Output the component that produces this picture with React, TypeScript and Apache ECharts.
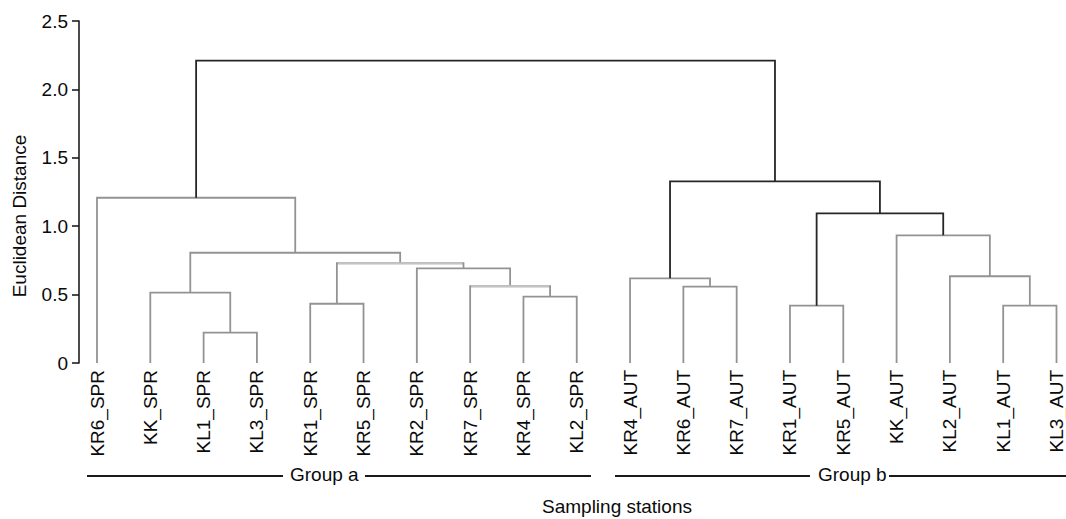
import React, { useEffect, useRef } from "react";
import * as echarts from "echarts";

// Leaves of the dendrogram, in display order
const leaves = [
  "KR6_SPR", "KK_SPR", "KL1_SPR", "KL3_SPR", "KR1_SPR", "KR5_SPR", "KR2_SPR", "KR7_SPR", "KR4_SPR", "KL2_SPR",
  "KR4_AUT", "KR6_AUT", "KR7_AUT", "KR1_AUT", "KR5_AUT", "KK_AUT", "KL2_AUT", "KL1_AUT", "KL3_AUT",
];

// Linkage: merge k creates cluster id (leaves.length + k)
const mergeLeft = [2, 13, 17, 4, 8, 1, 11, 7, 10, 16, 6, 22, 24, 15, 20, 0, 27, 34];
const mergeRight = [3, 14, 18, 5, 9, 19, 12, 23, 25, 21, 26, 29, 30, 28, 32, 31, 33, 35];
const mergeHeight = [0.222, 0.419, 0.419, 0.433, 0.485, 0.514, 0.558, 0.561, 0.619, 0.634, 0.692, 0.729, 0.806, 0.933, 1.094, 1.208, 1.328, 2.21];

const yTicks = [0, 0.5, 1.0, 1.5, 2.0, 2.5];

const groupNames = ["Group a", "Group b"];
const xAxisTitle = "Sampling stations";
const yAxisTitle = "Euclidean Distance";

// styling (not data)
const DARK_NODES = [33, 35, 36];
const LIGHT_HORIZONTAL = [26, 30];
const DARK = "#262626";
const GRAY = "#939393";
const LIGHT = "#c4c4c4";
const FONT = "'Liberation Sans', Arial, sans-serif";
const FS = 19;

function buildLinks() {
  const n = leaves.length;
  const xs: number[] = leaves.map((_, i) => i);
  const hs: number[] = leaves.map(() => 0);
  const data: any[] = [];
  const overlays: any[] = [];
  mergeLeft.forEach((l, k) => {
    const r = mergeRight[k];
    const h = mergeHeight[k];
    const id = n + k;
    xs[id] = (xs[l] + xs[r]) / 2;
    hs[id] = h;
    const color = DARK_NODES.includes(id) ? DARK : GRAY;
    data.push({
      coords: [
        [xs[l], hs[l]],
        [xs[l], h],
        [xs[r], h],
        [xs[r], hs[r]],
      ],
      lineStyle: { color },
    });
    if (LIGHT_HORIZONTAL.includes(id)) {
      overlays.push({
        coords: [
          [xs[l] + 0.02, h],
          [xs[r] - 0.02, h],
        ],
        lineStyle: { color: LIGHT },
      });
    }
  });
  return data.concat(overlays);
}

export default function App() {
  const ref = useRef<HTMLDivElement>(null);
  useEffect(() => {
    if (!ref.current) return;
    const chart = echarts.init(ref.current, undefined, { renderer: "svg" });
    const gridLeft = 97;
    const gridRight = 8;
    const lineY = 476;
    const groupLine = (x1: number, x2: number) => ({
      type: "line",
      shape: { x1, y1: lineY, x2, y2: lineY },
      style: { stroke: "#1a1a1a", lineWidth: 2 },
      silent: true,
    });
    chart.setOption({
      animation: false,
      backgroundColor: "#ffffff",
      textStyle: { fontFamily: FONT },
      grid: { left: gridLeft, right: gridRight, top: 21, bottom: 156, containLabel: false },
      xAxis: [
        { type: "value", min: 0, max: leaves.length - 1, show: false },
        {
          type: "category",
          data: leaves,
          boundaryGap: false,
          position: "bottom",
          axisLine: { show: false },
          axisTick: { show: false },
          splitLine: { show: false },
          axisLabel: {
            rotate: 90,
            interval: 0,
            margin: 7,
            fontSize: FS,
            color: "#0a0a0a",
            fontFamily: FONT,
          },
        },
      ],
      yAxis: {
        type: "value",
        min: yTicks[0],
        max: yTicks[yTicks.length - 1],
        interval: 0.5,
        offset: 18,
        axisLine: { show: true, onZero: false, lineStyle: { color: "#111", width: 1.5 } },
        axisTick: { show: true, length: 7, lineStyle: { color: "#111", width: 1.5 } },
        splitLine: { show: false },
        axisLabel: {
          margin: 11,
          fontSize: FS,
          color: "#0a0a0a",
          fontFamily: FONT,
          formatter: (v: number) => (v === 0 ? "0" : v.toFixed(1)),
        },
      },
      series: [
        {
          type: "lines",
          coordinateSystem: "cartesian2d",
          xAxisIndex: 0,
          yAxisIndex: 0,
          polyline: true,
          silent: true,
          lineStyle: { width: 1.8, opacity: 1 },
          data: buildLinks(),
        },
      ],
      graphic: [
        groupLine(87, 283),
        groupLine(365, 591),
        groupLine(615, 810),
        groupLine(889, 1066),
        {
          type: "text",
          x: 19,
          y: 216,
          rotation: Math.PI / 2,
          style: {
            text: yAxisTitle,
            fontSize: FS,
            fill: "#0a0a0a",
            fontFamily: FONT,
            align: "center",
            verticalAlign: "middle",
          },
          silent: true,
        },
        {
          type: "text",
          left: 290,
          top: lineY - 11,
          style: { text: groupNames[0], fontSize: FS, fill: "#0a0a0a", fontFamily: FONT },
          silent: true,
        },
        {
          type: "text",
          left: 818,
          top: lineY - 11,
          style: { text: groupNames[1], fontSize: FS, fill: "#0a0a0a", fontFamily: FONT },
          silent: true,
        },
        {
          type: "text",
          left: 542,
          top: 497,
          style: { text: xAxisTitle, fontSize: FS, fill: "#0a0a0a", fontFamily: FONT },
          silent: true,
        },
      ],
    });
    return () => chart.dispose();
  }, []);
  return (
    <div
      ref={ref}
      style={{ position: "fixed", left: 0, top: 0, width: 1066, height: 519, background: "#fff" }}
    />
  );
}
